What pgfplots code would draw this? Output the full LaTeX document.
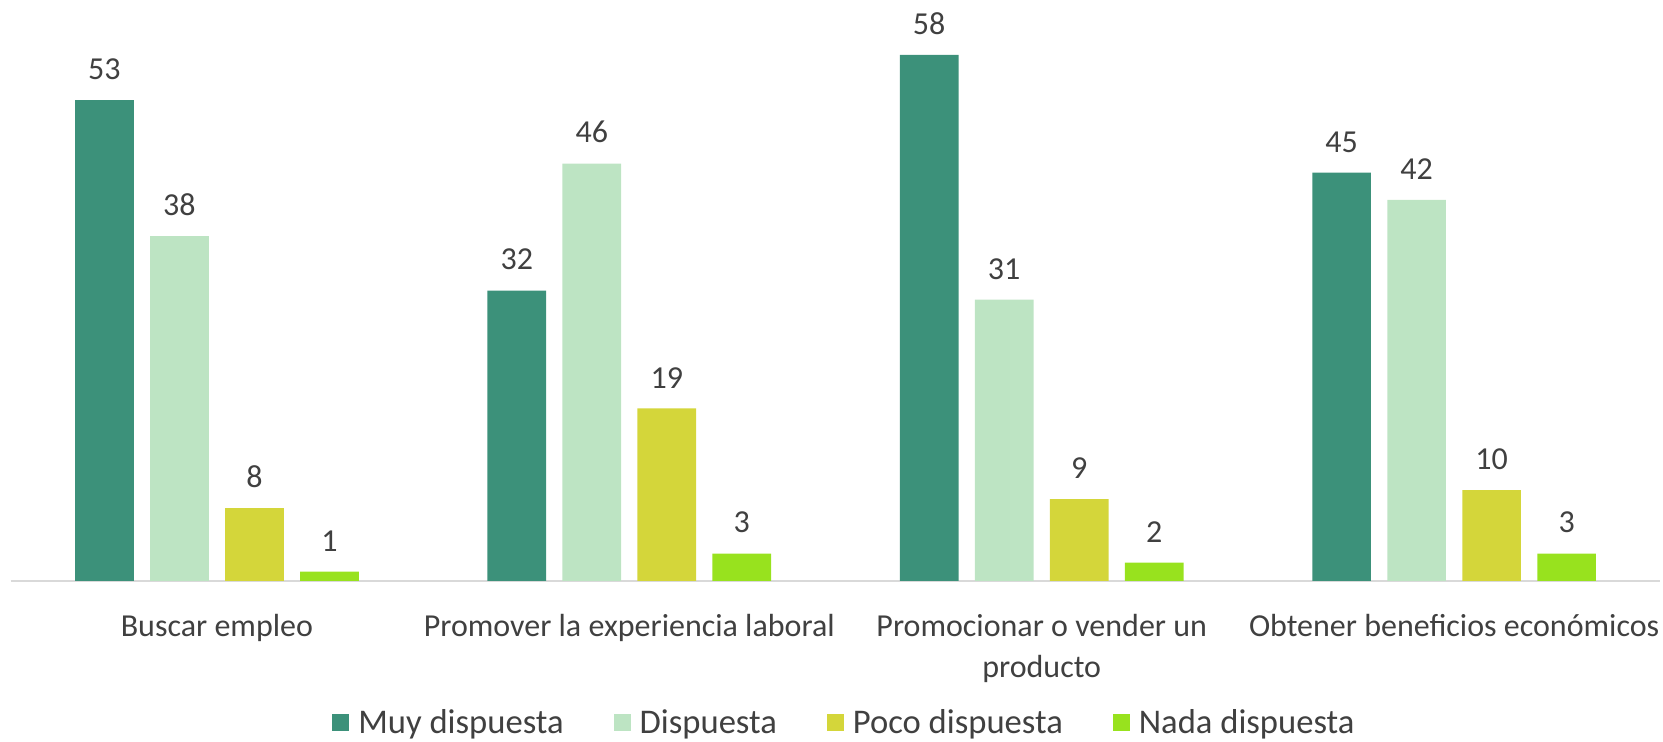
\documentclass[border=0pt]{standalone}
\usepackage{fontspec}
\setmainfont{Carlito}
\usepackage{pgfplots}
\pgfplotsset{compat=1.18}

\definecolor{muy}{HTML}{3C917A}
\definecolor{disp}{HTML}{BDE4C3}
\definecolor{poco}{HTML}{D4D63A}
\definecolor{nada}{HTML}{98E21E}
\definecolor{txt}{HTML}{404040}
\definecolor{axgray}{HTML}{D9D9D9}

\begin{document}
\begin{tikzpicture}
\path[use as bounding box] (0,0) rectangle (831.5pt,371pt);
\begin{axis}[
  at={(5.35pt,80.6pt)}, anchor=south west,
  scale only axis,
  width=824.8pt, height=290.2pt,
  ymin=0, ymax=64,
  xmin=-0.5, xmax=3.5,
  ybar=8.15pt, bar width=29.35pt,
  axis x line*=bottom, axis y line=none,
  x axis line style={-, draw=axgray, line width=0.9pt},
  ytick=\empty,
  xtick=data,
  xtick style={draw=none},
  xticklabels={Buscar empleo, Promover la experiencia laboral, {Promocionar o vender un\\producto}, Obtener beneficios económicos},
  xticklabel style={font=\fontsize{16}{20.5}\selectfont, text=txt, align=center, anchor=north, inner sep=0pt, yshift=-12.3pt},
  /pgf/number format/assume math mode=true,
  nodes near coords,
  every node near coord/.append style={font=\fontsize{16}{19}\selectfont, text=txt, anchor=south, inner sep=0pt, yshift=10pt},
  legend style={at={(0.506,-0.2445)}, anchor=center, draw=none, fill=none,
    legend columns=4, font=\fontsize{17.3}{20}\selectfont, text=txt,
    /tikz/every even column/.append style={column sep=23pt}},
  legend image code/.code={\fill[#1] (0pt,-4.25pt) rectangle (8.5pt,4.25pt);},
]
\addplot[fill=muy, draw=none] coordinates {(0,53) (1,32) (2,58) (3,45)};
\addplot[fill=disp, draw=none] coordinates {(0,38) (1,46) (2,31) (3,42)};
\addplot[fill=poco, draw=none] coordinates {(0,8) (1,19) (2,9) (3,10)};
\addplot[fill=nada, draw=none] coordinates {(0,1) (1,3) (2,2) (3,3)};
\legend{\hspace{2.5pt}Muy dispuesta, \hspace{2.5pt}Dispuesta, \hspace{2.5pt}Poco dispuesta, \hspace{2.5pt}Nada dispuesta}
\end{axis}
\end{tikzpicture}
\end{document}
